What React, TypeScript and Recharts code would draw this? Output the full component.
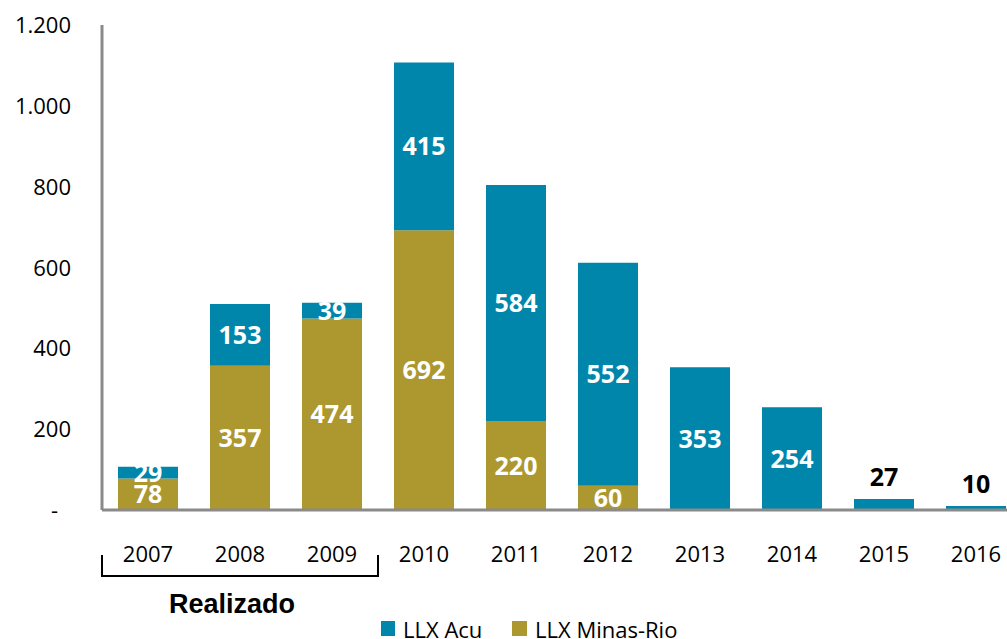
import React from 'react';
import { BarChart, Bar, XAxis, YAxis } from 'recharts';

const years = ['2007', '2008', '2009', '2010', '2011', '2012', '2013', '2014', '2015', '2016'];
const llxAcu = [29, 153, 39, 415, 584, 552, 353, 254, 27, 10];
const llxMinasRio = [78, 357, 474, 692, 220, 60, 0, 0, 0, 0];
const yTicks = [0, 200, 400, 600, 800, 1000, 1200];

const BLUE = '#0086ab';
const OLIVE = '#ad972f';
const AXIS = '#8a8a8a';
const FONT = '"Open Sans", sans-serif';

const data = years.map((year, i) => ({ year, acu: llxAcu[i], minas: llxMinasRio[i] }));

const fmt = (v: number) => (v === 0 ? '-' : v.toLocaleString('de-DE'));

function YTick({ x, y, payload }: any) {
  const zero = payload.value === 0;
  return (
    <text x={zero ? x - 44 : x - 31} y={y + 8} textAnchor="end" fontFamily={FONT} fontSize={22} fill="#000">
      {fmt(payload.value)}
    </text>
  );
}

function XTick({ x, y, payload }: any) {
  return (
    <text x={x} y={y + 52} textAnchor="middle" fontFamily={FONT} fontSize={22} fill="#000">
      {payload.value}
    </text>
  );
}

function minasLabel(props: any) {
  const { x, y, width, height, index } = props;
  const value = llxMinasRio[index];
  if (!value) return null;
  return (
    <text x={x + width / 2} y={y + height / 2} dy="0.36em" textAnchor="middle" fontFamily={FONT} fontWeight={700} fontSize={25} fill="#fff">
      {value}
    </text>
  );
}

// stacked label values are cumulative, so read the segment's own value
function acuLabel(props: any) {
  const { x, y, width, height, index } = props;
  const value = llxAcu[index];
  if (!value) return null;
  const above = llxMinasRio[index] === 0 && value < 50;
  return (
    <text
      x={x + width / 2}
      y={above ? y - 22 : y + height / 2}
      dy="0.36em"
      textAnchor="middle"
      fontFamily={FONT}
      fontWeight={700}
      fontSize={25}
      fill={above ? '#000' : '#fff'}
    >
      {value}
    </text>
  );
}

export default function App() {
  return (
    <div style={{ position: 'fixed', left: 0, top: 0, width: 1007, height: 639, overflow: 'hidden', background: '#fff' }}>
      <BarChart width={1030} height={639} data={data} margin={{ top: 25, right: 8, left: 0, bottom: 69 }} barSize={60}>
        <YAxis
          domain={[0, 1200]}
          ticks={yTicks}
          width={102}
          tickLine={false}
          tickSize={0}
          tickMargin={0}
          axisLine={{ stroke: AXIS, strokeWidth: 3 }}
          tick={<YTick />}
          interval={0}
        />
        <XAxis
          dataKey="year"
          height={60}
          tickLine={false}
          tickSize={0}
          tickMargin={0}
          axisLine={{ stroke: AXIS, strokeWidth: 3 }}
          tick={<XTick />}
          interval={0}
        />
        <Bar dataKey="minas" stackId="a" fill={OLIVE} isAnimationActive={false} label={minasLabel} />
        <Bar dataKey="acu" stackId="a" fill={BLUE} isAnimationActive={false} label={acuLabel} />
      </BarChart>
      <svg width={1007} height={639} style={{ position: 'absolute', left: 0, top: 0, pointerEvents: 'none' }}>
        {/* bracket under realised years */}
        <path d="M102,555 L102,576 L378,576 L378,555" fill="none" stroke="#000" strokeWidth={2} />
        <text x={232} y={613} textAnchor="middle" fontFamily="'Liberation Sans', Arial, sans-serif" fontWeight={700} fontSize={27} fill="#000">
          Realizado
        </text>
        {/* legend */}
        <rect x={381} y={621} width={14} height={15} fill={BLUE} />
        <text x={403} y={638} fontFamily={FONT} fontSize={22} fill="#000">LLX Acu</text>
        <rect x={512} y={621} width={15} height={15} fill={OLIVE} />
        <text x={535} y={638} fontFamily={FONT} fontSize={22} fill="#000">LLX Minas-Rio</text>
      </svg>
    </div>
  );
}
